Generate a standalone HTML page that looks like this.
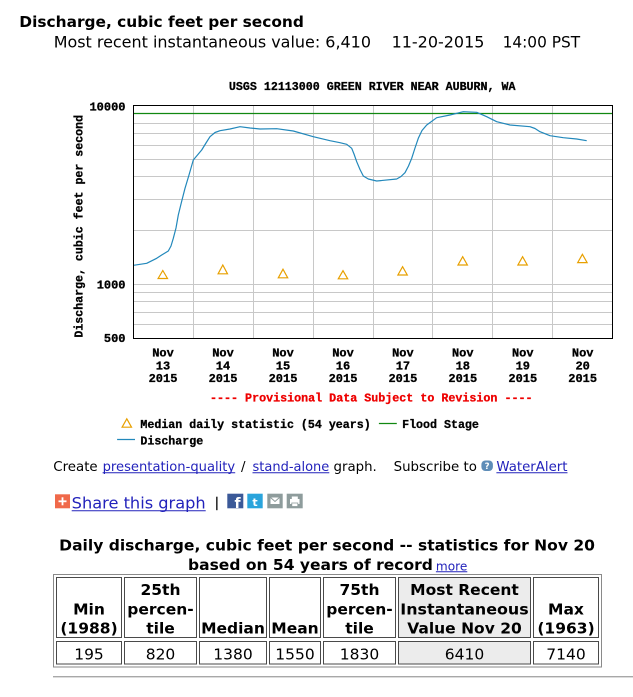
<!DOCTYPE html>
<html><head><meta charset="utf-8">
<style>
html,body{margin:0;padding:0;background:#fff;width:633px;height:697px;overflow:hidden}
svg{display:block}
.m{font-family:"Liberation Mono","DejaVu Sans Mono",monospace;font-weight:bold;font-size:12px;fill:#000;stroke:#000;stroke-width:0.3}
.v{font-family:"DejaVu Sans","Liberation Sans",sans-serif;fill:#000}
.b{font-weight:bold}
.lk{fill:#2222bb}
</style></head>
<body>
<svg width="633" height="697" viewBox="0 0 633 697" xmlns="http://www.w3.org/2000/svg">
<!-- Header -->
<text class="v b" x="19.3" y="27" font-size="15.4" textLength="284.6" lengthAdjust="spacingAndGlyphs">Discharge, cubic feet per second</text>
<text class="v" x="53.7" y="47.3" font-size="16" textLength="317.3" lengthAdjust="spacingAndGlyphs">Most recent instantaneous value: 6,410</text>
<text class="v" x="391.6" y="47.3" font-size="16" textLength="92.8" lengthAdjust="spacingAndGlyphs">11-20-2015</text>
<text class="v" x="502.6" y="47.3" font-size="16" textLength="77.5" lengthAdjust="spacingAndGlyphs">14:00 PST</text>

<!-- Chart title -->
<text class="m" x="228.9" y="90" textLength="286.6" lengthAdjust="spacingAndGlyphs">USGS 12113000 GREEN RIVER NEAR AUBURN, WA</text>

<!-- Gridlines -->
<g stroke="#c8c8c8" stroke-width="1" fill="none">
<line x1="133" y1="123.5" x2="613" y2="123.5"/>
<line x1="133" y1="133.5" x2="613" y2="133.5"/>
<line x1="133" y1="145.5" x2="613" y2="145.5"/>
<line x1="133" y1="159.5" x2="613" y2="159.5"/>
<line x1="133" y1="176.5" x2="613" y2="176.5"/>
<line x1="133" y1="199.5" x2="613" y2="199.5"/>
<line x1="133" y1="230.5" x2="613" y2="230.5"/>
<line x1="133" y1="284.5" x2="613" y2="284.5"/>
<line x1="133" y1="292.5" x2="613" y2="292.5"/>
<line x1="133" y1="301.5" x2="613" y2="301.5"/>
<line x1="133" y1="312.5" x2="613" y2="312.5"/>
<line x1="133" y1="324.5" x2="613" y2="324.5"/>
<line x1="193.5" y1="106" x2="193.5" y2="338"/>
<line x1="253.5" y1="106" x2="253.5" y2="338"/>
<line x1="313.5" y1="106" x2="313.5" y2="338"/>
<line x1="373.5" y1="106" x2="373.5" y2="338"/>
<line x1="432.5" y1="106" x2="432.5" y2="338"/>
<line x1="492.5" y1="106" x2="492.5" y2="338"/>
<line x1="552.5" y1="106" x2="552.5" y2="338"/>
</g>
<!-- Flood stage -->
<line x1="134" y1="113.5" x2="612" y2="113.5" stroke="#118811" stroke-width="1.3"/>

<!-- Discharge -->
<polyline fill="none" stroke="#2288bb" stroke-width="1.2" stroke-linejoin="round" points="133.5,265.3 146.7,263.3 156.7,258.3 161.7,255 168.3,251 171,246 173.3,238.3 176,228 178.3,215 181.5,202 185,188.3 189,175 193.3,160 201.7,150 206,143 210,136.7 215,132.5 220,130.7 230,129 240,126.7 250,128 260,129 276.7,128.7 293.3,131 313.3,136.7 330,140.7 340,142.7 346.7,144.3 351.7,148.3 354,154 356.7,161.7 360,169.5 363.3,176 368.3,179 376.7,181 396.7,179 401,176.5 405,172.7 408.5,166 411.7,158.3 415,148 418.3,138.3 422,130.5 426.7,125 436.7,117.7 450,115 463.3,111.7 476.7,112.3 486.7,116.7 496.7,121.7 510,125 530,126.7 535,128.5 540,131.7 550,135.7 563.3,137.7 576.7,139 586.7,140.7"/>

<!-- Median triangles -->
<g fill="none" stroke="#e8a000" stroke-width="1.2">
<polygon points="162.8,270.5 158.1,278.5 167.5,278.5"/>
<polygon points="222.8,265 218.1,273.8 227.5,273.8"/>
<polygon points="283,269.2 278.3,277.8 287.7,277.8"/>
<polygon points="343,270.7 338.3,278.8 347.7,278.8"/>
<polygon points="402.6,266.7 397.9,275 407.3,275"/>
<polygon points="462.7,256.7 458,265 467.4,265"/>
<polygon points="522.6,256.7 517.9,265 527.3,265"/>
<polygon points="582.4,254.3 577.7,262.6 587.1,262.6"/>
</g>

<!-- Frame -->
<rect x="133.5" y="105.5" width="479" height="233" fill="none" stroke="#000" stroke-width="1"/>

<!-- Y tick labels -->
<text class="m" x="125.5" y="110.3" text-anchor="end">10000</text>
<text class="m" x="125.5" y="288.6" text-anchor="end">1000</text>
<text class="m" x="125.5" y="342.2" text-anchor="end">500</text>

<!-- Y axis title -->
<text class="m" transform="translate(82.3,226.3) rotate(-90)" x="0" y="0" text-anchor="middle" textLength="222.7" lengthAdjust="spacingAndGlyphs">Discharge, cubic feet per second</text>

<!-- X labels -->
<g class="m" text-anchor="middle">
<text x="163" y="356.7">Nov</text><text x="163" y="369.3">13</text><text x="163" y="382">2015</text>
<text x="223" y="356.7">Nov</text><text x="223" y="369.3">14</text><text x="223" y="382">2015</text>
<text x="283" y="356.7">Nov</text><text x="283" y="369.3">15</text><text x="283" y="382">2015</text>
<text x="343" y="356.7">Nov</text><text x="343" y="369.3">16</text><text x="343" y="382">2015</text>
<text x="402.9" y="356.7">Nov</text><text x="402.9" y="369.3">17</text><text x="402.9" y="382">2015</text>
<text x="462.8" y="356.7">Nov</text><text x="462.8" y="369.3">18</text><text x="462.8" y="382">2015</text>
<text x="522.8" y="356.7">Nov</text><text x="522.8" y="369.3">19</text><text x="522.8" y="382">2015</text>
<text x="582.7" y="356.7">Nov</text><text x="582.7" y="369.3">20</text><text x="582.7" y="382">2015</text>
</g>

<!-- Provisional -->
<text class="m" x="210" y="401.7" style="fill:#ee0000;stroke:#ee0000" textLength="322.5" lengthAdjust="spacingAndGlyphs">---- Provisional Data Subject to Revision ----</text>

<!-- Legend -->
<polygon points="126.8,418.8 122.1,427.2 131.5,427.2" fill="none" stroke="#e8a000" stroke-width="1.2"/>
<text class="m" x="140.4" y="428" textLength="230.3" lengthAdjust="spacingAndGlyphs">Median daily statistic (54 years)</text>
<line x1="378.9" y1="423.5" x2="396.8" y2="423.5" stroke="#118811" stroke-width="1.3"/>
<text class="m" x="402.1" y="428" textLength="76.8" lengthAdjust="spacingAndGlyphs">Flood Stage</text>
<line x1="117.1" y1="439.5" x2="135" y2="439.5" stroke="#2288bb" stroke-width="1.3"/>
<text class="m" x="140.4" y="444.3" textLength="62.8" lengthAdjust="spacingAndGlyphs">Discharge</text>

<!-- Create line -->
<text class="v" x="53.3" y="471" font-size="13.35">Create</text>
<text class="v lk" x="102.6" y="471" font-size="13.35" textLength="132.6" lengthAdjust="spacingAndGlyphs">presentation-quality</text>
<line x1="102.6" y1="472.8" x2="235.2" y2="472.8" stroke="#2222bb" stroke-width="1"/>
<text class="v" x="241" y="471" font-size="13.35">/</text>
<text class="v lk" x="252.5" y="471" font-size="13.35" textLength="76.8" lengthAdjust="spacingAndGlyphs">stand-alone</text>
<line x1="252.5" y1="472.8" x2="329.3" y2="472.8" stroke="#2222bb" stroke-width="1"/>
<text class="v" x="333.5" y="471" font-size="13.35" textLength="43.3" lengthAdjust="spacingAndGlyphs">graph.</text>
<text class="v" x="393.6" y="471" font-size="13.35" textLength="83.3" lengthAdjust="spacingAndGlyphs">Subscribe to</text>
<rect x="481.4" y="460.5" width="11.5" height="10.5" rx="4" fill="#5e8db8"/>
<text class="v b" x="487.1" y="469.2" font-size="8.5" text-anchor="middle" style="fill:#fff">?</text>
<text class="v lk" x="496.4" y="471" font-size="13.35" textLength="71.1" lengthAdjust="spacingAndGlyphs">WaterAlert</text>
<line x1="496.4" y1="472.8" x2="567.5" y2="472.8" stroke="#2222bb" stroke-width="1"/>

<!-- Share line -->
<rect x="55" y="494.3" width="15" height="14" fill="#f0694a"/>
<rect x="58.5" y="500.4" width="8" height="1.8" fill="#fff"/>
<rect x="61.6" y="497.3" width="1.8" height="8" fill="#fff"/>
<text class="v lk" x="71.7" y="508.3" font-size="16" textLength="134" lengthAdjust="spacingAndGlyphs">Share this graph</text>
<line x1="71.7" y1="510.7" x2="205.7" y2="510.7" stroke="#2222bb" stroke-width="1"/>
<rect x="216.2" y="496.7" width="1.3" height="13.5" fill="#000"/>
<rect x="227.3" y="493.7" width="16" height="14.6" fill="#3b5998"/>
<text class="v b" x="237.5" y="508" font-size="14" text-anchor="middle" style="fill:#fff">f</text>
<rect x="247.3" y="493.7" width="15.4" height="14.6" fill="#2aa4dc"/>
<text class="v b" x="255" y="506" font-size="11" text-anchor="middle" style="fill:#fff">t</text>
<rect x="267.3" y="493.7" width="15.4" height="14.6" fill="#8e9c9c"/>
<rect x="270.5" y="497.5" width="9" height="6.5" fill="#fff"/>
<polyline points="270.5,497.5 275,501.5 279.5,497.5" fill="none" stroke="#8e9c9c" stroke-width="1"/>
<rect x="286.7" y="493.7" width="16" height="14.6" fill="#8e9c9c"/>
<rect x="290" y="499" width="9.5" height="5" fill="#fff"/>
<rect x="291.8" y="496.5" width="6" height="3" fill="#fff"/>
<rect x="291.8" y="503" width="6" height="3.5" fill="#fff" stroke="#8e9c9c" stroke-width="0.8"/>

<!-- Table title -->
<text class="v b" x="59.2" y="550.7" font-size="15.5" textLength="535.8" lengthAdjust="spacingAndGlyphs">Daily discharge, cubic feet per second -- statistics for Nov 20</text>
<text class="v b" x="188" y="570" font-size="15.5" textLength="244.9" lengthAdjust="spacingAndGlyphs">based on 54 years of record</text>
<text class="v lk" x="435.9" y="570.3" font-size="12" textLength="31.4" lengthAdjust="spacingAndGlyphs">more</text>
<line x1="435.9" y1="571.8" x2="467.3" y2="571.8" stroke="#2222bb" stroke-width="1"/>

<!-- Table -->
<rect x="53.5" y="574.5" width="548" height="92.5" fill="none" stroke="#8a8a8a" stroke-width="1"/>
<g fill="none" stroke="#4a4a4a" stroke-width="1">
<rect x="56.5" y="577.5" width="65" height="60"/>
<rect x="124.5" y="577.5" width="72" height="60"/>
<rect x="199.5" y="577.5" width="67" height="60"/>
<rect x="269.5" y="577.5" width="51" height="60"/>
<rect x="323.5" y="577.5" width="72" height="60"/>
<rect x="398.5" y="577.5" width="132" height="60" fill="#ececec"/>
<rect x="533.5" y="577.5" width="65" height="60"/>
<rect x="56.5" y="641.5" width="65" height="22.5"/>
<rect x="124.5" y="641.5" width="72" height="22.5"/>
<rect x="199.5" y="641.5" width="67" height="22.5"/>
<rect x="269.5" y="641.5" width="51" height="22.5"/>
<rect x="323.5" y="641.5" width="72" height="22.5"/>
<rect x="398.5" y="641.5" width="132" height="22.5" fill="#ececec"/>
<rect x="533.5" y="641.5" width="65" height="22.5"/>
</g>
<g class="v b" font-size="15.5" text-anchor="middle">
<text x="89" y="614.3">Min</text><text x="89" y="633.3">(1988)</text>
<text x="160.5" y="595">25th</text><text x="160.5" y="614.3">percen-</text><text x="160.5" y="633.3">tile</text>
<text x="233" y="633.3">Median</text>
<text x="295" y="633.3">Mean</text>
<text x="359.5" y="595">75th</text><text x="359.5" y="614.3">percen-</text><text x="359.5" y="633.3">tile</text>
<text x="464.5" y="595">Most Recent</text><text x="464.5" y="614.3" textLength="128.4" lengthAdjust="spacingAndGlyphs">Instantaneous</text><text x="464.5" y="633.3">Value Nov 20</text>
<text x="566" y="614.3">Max</text><text x="566" y="633.3">(1963)</text>
</g>
<g class="v" font-size="15.5" text-anchor="middle">
<text x="89" y="659.7">195</text>
<text x="160.5" y="659.7">820</text>
<text x="233" y="659.7">1380</text>
<text x="295" y="659.7">1550</text>
<text x="359.5" y="659.7">1830</text>
<text x="464.5" y="659.7">6410</text>
<text x="566" y="659.7">7140</text>
</g>

<!-- hr -->
<line x1="53" y1="676.5" x2="633" y2="676.5" stroke="#a8a8a8" stroke-width="1"/>
<line x1="53" y1="677.5" x2="633" y2="677.5" stroke="#dcdcdc" stroke-width="1"/>
</svg>
</body></html>
